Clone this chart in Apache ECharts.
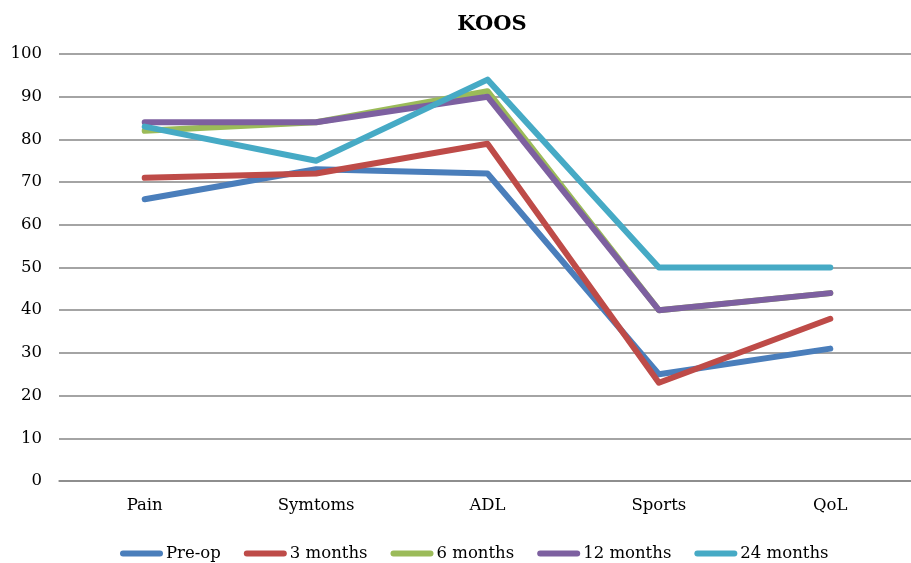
<!DOCTYPE html>
<html><head><meta charset="utf-8">
<script src="https://cdn.jsdelivr.net/npm/echarts@6/dist/echarts.min.js"></script>
<style>html,body{margin:0;padding:0;background:#fff}#c{width:911px;height:563px}</style>
</head><body><div id="c"></div>
<script>
const categories = ['Pain', 'Symtoms', 'ADL', 'Sports', 'QoL'];
const seriesNames = ['Pre-op', '3 months', '6 months', '12 months', '24 months'];
const preOp = [66, 73, 72, 25, 31];
const months3 = [71, 72, 79, 23, 38];
const months6 = [82, 84, 91.3, 40, 44];
const months12 = [84, 84, 90, 40, 44];
const months24 = [83, 75, 94, 50, 50];
const yTicks = [0, 10, 20, 30, 40, 50, 60, 70, 80, 90, 100];
const colors = ['#4A7EBB', '#BE4B48', '#9BBB59', '#7D60A0', '#46AAC5'];
const values = [preOp, months3, months6, months12, months24];
const FONT = 'DejaVu Serif';
const chart = echarts.init(document.getElementById('c'));
chart.setOption({
  animation: false,
  title: { text: 'KOOS', left: 487, textAlign: 'center', top: 9,
    textStyle: { fontFamily: FONT, fontWeight: 'bold', fontSize: 21, color: '#000' } },
  grid: { left: 59, width: 857, top: 54, bottom: 82, containLabel: false, outerBoundsMode: 'none' },
  legend: {
    left: 115, top: 540, itemWidth: 43, itemHeight: 6, itemGap: 23,
    icon: 'path://M3,0 L40,0 A3,3 0 0 1 40,6 L3,6 A3,3 0 0 1 3,0 Z',
    textStyle: { fontFamily: FONT, fontSize: 16.5, color: '#000', padding: [0, 0, 0, -2] },
    data: seriesNames
  },
  xAxis: {
    type: 'category', data: categories, boundaryGap: true,
    axisLine: { lineStyle: { color: '#868686', width: 1.5 } },
    axisTick: { show: false },
    axisLabel: { fontFamily: FONT, fontSize: 16.5, color: '#000', margin: 16 }
  },
  yAxis: {
    type: 'value', min: yTicks[0], max: yTicks[yTicks.length - 1], interval: 10,
    axisLine: { show: false }, axisTick: { show: false },
    axisLabel: { fontFamily: FONT, fontSize: 16.5, color: '#000', margin: 17 },
    splitLine: { lineStyle: { color: '#868686', width: 1.5 } }
  },
  series: seriesNames.map((n, i) => ({
    name: n, type: 'line', data: values[i],
    symbol: 'none', showSymbol: false,
    lineStyle: { width: 6, color: colors[i], cap: 'round', join: 'round' },
    itemStyle: { color: colors[i] }
  }))
});
</script></body></html>
